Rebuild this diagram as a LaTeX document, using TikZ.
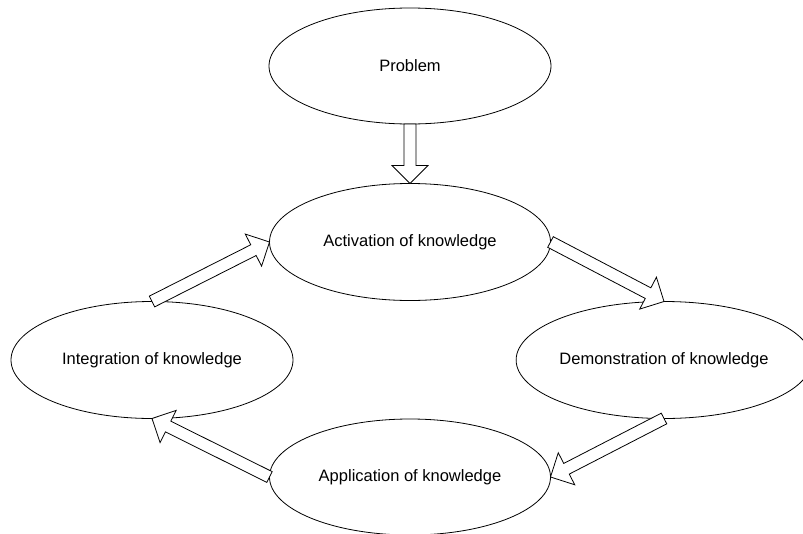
\documentclass[tikz,border=0pt]{standalone}
\usepackage{fontspec}
\setmainfont{Liberation Sans}
\usetikzlibrary{shapes.geometric,calc}
\tikzset{
  ell/.style={ellipse,draw,line width=0.8pt,inner sep=0pt,outer sep=0pt,
    font=\fontsize{16.5}{19}\selectfont},
  barrow/.style={draw,line width=0.8pt,line join=miter,fill=white}
}
\newcommand\blockarr[2]{%
  \coordinate (ba-h) at ($(#2)!18pt!(#1)$);
  \draw[barrow] ($(#1)!6pt!90:(#2)$) -- ($(ba-h)!6pt!90:(#2)$) --
    ($(ba-h)!18pt!90:(#2)$) -- (#2) -- ($(ba-h)!18pt!-90:(#2)$) --
    ($(ba-h)!6pt!-90:(#2)$) -- ($(#1)!6pt!-90:(#2)$) -- cycle;
}
\begin{document}
\begin{tikzpicture}[x=1pt,y=-1pt]
\useasboundingbox (0,0) rectangle (803,533);
\node[ell,minimum width=282pt,minimum height=116pt] (prob) at (410,66) {Problem};
\node[ell,minimum width=281pt,minimum height=117pt] (act) at (410,242) {Activation of knowledge};
\node[ell,minimum width=282pt,minimum height=117pt] (int) at (152,360) {Integration of knowledge};
\node[ell,minimum width=276pt,minimum height=117pt] (dem) at (664,360) {Demonstration of knowledge};
\node[ell,minimum width=281pt,minimum height=116pt] (app) at (410,477) {Application of knowledge};
\blockarr{prob.south}{act.north}
\blockarr{act.east}{dem.north}
\blockarr{dem.south}{app.east}
\blockarr{app.west}{int.south}
\blockarr{int.north}{act.west}
\end{tikzpicture}
\end{document}
